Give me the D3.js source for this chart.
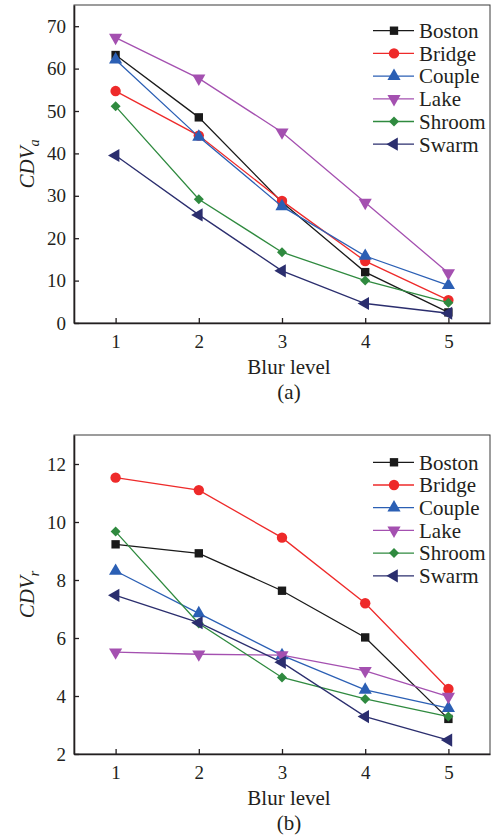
<!DOCTYPE html>
<html>
<head>
<meta charset="utf-8">
<script src="https://cdn.jsdelivr.net/npm/d3@7"></script>
<style>
  body { margin: 0; background: #fff; }
  text { font-family: "Liberation Serif", "Times New Roman", serif; fill: #231f20; }
</style>
</head>
<body>
<svg id="chart"></svg>
<script>
const blurLevels = [1, 2, 3, 4, 5];
const seriesNames = ["Boston", "Bridge", "Couple", "Lake", "Shroom", "Swarm"];
const seriesColors = ["#1a1a1a", "#ee2a2a", "#2b5fb4", "#a450b0", "#2f8a3f", "#2b2e6e"];
const seriesMarkers = ["square", "circle", "up", "down", "diamond", "left"];

// panel (a): CDV_a
const cdvA = {
  Boston: [63.2, 48.5, 28.5, 12.0, 2.5],
  Bridge: [54.7, 44.2, 28.8, 14.6, 5.4],
  Couple: [62.1, 43.9, 27.5, 15.8, 8.9],
  Lake:   [67.3, 57.7, 45.0, 28.4, 11.8],
  Shroom: [51.1, 29.2, 16.7, 10.0, 4.8],
  Swarm:  [39.5, 25.5, 12.3, 4.6, 2.3]
};
const ticksA = [0, 10, 20, 30, 40, 50, 60, 70];

// panel (b): CDV_r
const cdvR = {
  Boston: [9.23, 8.92, 7.63, 6.02, 3.21],
  Bridge: [11.53, 11.1, 9.46, 7.2, 4.24],
  Couple: [8.31, 6.85, 5.4, 4.21, 3.58],
  Lake:   [5.51, 5.44, 5.41, 4.87, 3.98],
  Shroom: [9.67, 6.5, 4.64, 3.9, 3.29],
  Swarm:  [7.47, 6.53, 5.16, 3.29, 2.48]
};
const ticksR = [2, 4, 6, 8, 10, 12];

const W = 495, H = 835;
const serif = '"Liberation Serif", "Times New Roman", serif';
const svg = d3.select("#chart").attr("width", W).attr("height", H);

const symbolFor = {
  square: d3.symbolSquare,
  circle: d3.symbolCircle,
  up: d3.symbolTriangle,
  down: d3.symbolTriangle,
  diamond: d3.symbolSquare,
  left: d3.symbolTriangle
};
const rotFor = { up: 0, down: 180, left: -90, square: 0, circle: 0, diamond: 45 };
const sizeFor = { square: 70, circle: 85, up: 75, down: 75, diamond: 50, left: 75 };

function drawMarker(g, kind, color, x, y) {
  g.append("path")
    .attr("d", d3.symbol().type(symbolFor[kind]).size(sizeFor[kind])())
    .attr("transform", `translate(${x},${y}) rotate(${rotFor[kind]})`)
    .attr("fill", color);
}

function panel(opts) {
  const { top, bottom, data, domain, ticks, yLabelSub, caption, legendTop } = opts;
  const left = 74, right = 490;
  const g = svg.append("g");

  const x = d3.scaleLinear().domain([0.5, 5.5]).range([left, right]);
  const y = d3.scaleLinear().domain(domain).range([bottom, top]);

  // frame
  g.append("rect")
    .attr("x", left).attr("y", top)
    .attr("width", right - left).attr("height", bottom - top)
    .attr("fill", "none").attr("stroke", "#3a3a3a").attr("stroke-width", 1);

  // axes, ticks pointing in
  const xAxis = g.append("g")
    .attr("transform", `translate(0,${bottom})`)
    .call(d3.axisBottom(x).tickValues(blurLevels).tickFormat(d3.format("d"))
      .tickSizeInner(-5).tickSizeOuter(0).tickPadding(12));
  const yAxis = g.append("g")
    .attr("transform", `translate(${left},0)`)
    .call(d3.axisLeft(y).tickValues(ticks).tickFormat(d3.format("d"))
      .tickSizeInner(-5).tickSizeOuter(0).tickPadding(8));
  [xAxis, yAxis].forEach(ax => {
    ax.attr("font-family", serif);
    ax.select(".domain").attr("stroke", "#231f20").attr("stroke-width", 1.6);
    ax.selectAll(".tick line").attr("stroke", "#231f20").attr("stroke-width", 1.3);
    ax.selectAll(".tick text")
      .style("font-family", serif)
      .style("font-size", "19px")
      .attr("fill", "#231f20");
  });

  // axis titles
  g.append("text")
    .attr("x", (left + right) / 2 + 7).attr("y", bottom + 51)
    .attr("text-anchor", "middle").style("font-size", "21px")
    .text("Blur level");
  g.append("text")
    .attr("x", (left + right) / 2 + 7).attr("y", bottom + 76)
    .attr("text-anchor", "middle").style("font-size", "21px")
    .text(caption);
  const yl = g.append("text")
    .attr("transform", `translate(34,${(top + bottom) / 2}) rotate(-90)`)
    .attr("text-anchor", "middle").style("font-size", "21px").style("font-style", "italic");
  yl.append("tspan").text("CDV");
  yl.append("tspan").attr("dy", 5).style("font-size", "14px").text(yLabelSub);

  // series
  const line = d3.line().x((d, i) => x(blurLevels[i])).y(d => y(d));
  seriesNames.forEach((name, si) => {
    const vals = data[name];
    g.append("path")
      .attr("d", line(vals))
      .attr("fill", "none")
      .attr("stroke", seriesColors[si])
      .attr("stroke-width", 1.3);
    vals.forEach((v, i) => drawMarker(g, seriesMarkers[si], seriesColors[si], x(blurLevels[i]), y(v)));
  });

  // legend
  const lg = g.append("g");
  seriesNames.forEach((name, si) => {
    const ly = legendTop + si * 22.7;
    lg.append("line")
      .attr("x1", 373).attr("x2", 414).attr("y1", ly).attr("y2", ly)
      .attr("stroke", seriesColors[si]).attr("stroke-width", 1.3);
    drawMarker(lg, seriesMarkers[si], seriesColors[si], 394, ly);
    lg.append("text")
      .attr("x", 419).attr("y", ly).attr("dy", "0.35em")
      .style("font-size", "21px")
      .text(name);
  });
}

panel({ top: 5, bottom: 323, data: cdvA, domain: [0, 75], ticks: ticksA, yLabelSub: "a", caption: "(a)", legendTop: 30.7 });
panel({ top: 435, bottom: 754, data: cdvR, domain: [2, 13], ticks: ticksR, yLabelSub: "r", caption: "(b)", legendTop: 462.3 });
</script>
</body>
</html>
